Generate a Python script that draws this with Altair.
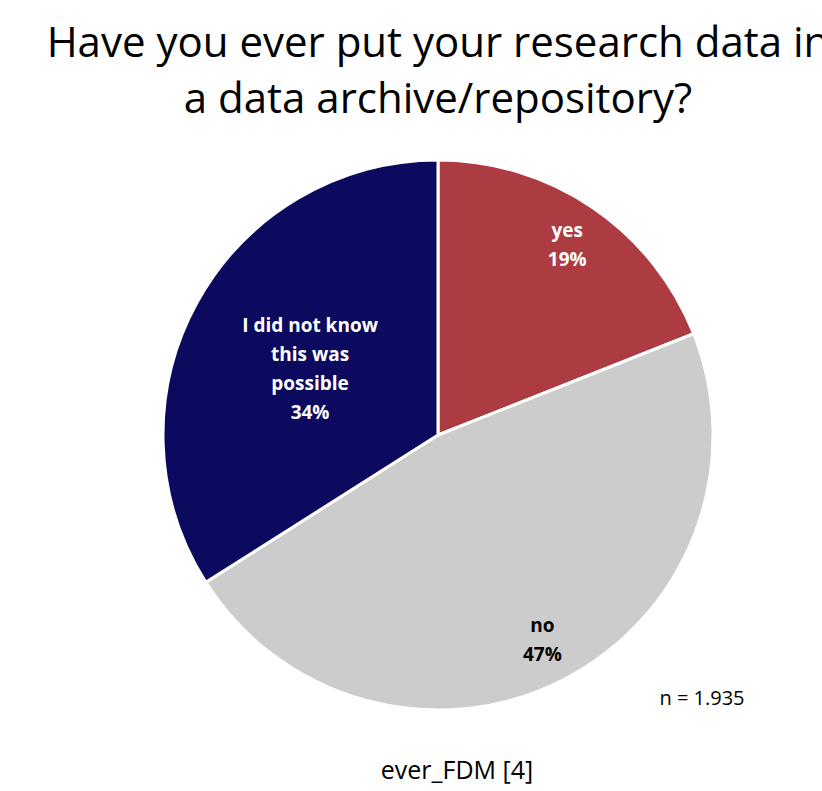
import altair as alt
import pandas as pd

# Survey answers, shares (percent) and slice colours
answers = ["yes", "no", "I did not know this was possible"]
label_lines = ["yes", "no", "I did not know\nthis was\npossible"]
shares = [19, 47, 34]
colors = ["#AC3C42", "#CCCCCC", "#0B0A5E"]

title_lines = ["Have you ever put your research data in", "a data archive/repository?"]
sample_note = "n = 1.935"
variable_name = "ever_FDM [4]"

df = pd.DataFrame({
    "answer": answers,
    "label": label_lines,
    "share": shares,
    "idx": list(range(len(answers))),
})
df["text"] = [f"{l}\n{s}%" for l, s in zip(label_lines, shares)]

W, H = 822, 791
CX, CY, R = 438, 435, 275
LH = 29  # line height of the slice labels

base = alt.Chart(df).encode(
    theta=alt.Theta("share:Q", stack=True),
    order=alt.Order("idx:O"),
)

pie = base.mark_arc(outerRadius=R, stroke="white", strokeWidth=3).encode(
    x=alt.value(CX),
    y=alt.value(CY),
    color=alt.Color("answer:N", scale=alt.Scale(domain=answers, range=colors), legend=None),
)

label_font = dict(font="Open Sans", fontSize=19, fontWeight="bold", lineHeight=LH,
                  align="center", baseline="middle", lineBreak="\n")

# two-line labels for "yes" and "no", centred on their slices
outer_labels = base.transform_calculate(
    shown="datum.answer == 'I did not know this was possible' ? '' : datum.text"
).mark_text(radius=230, dy=-LH / 2 + 1, **label_font).encode(
    x=alt.value(CX), y=alt.value(CY),
    text="shown:N",
    color=alt.condition(alt.datum.answer == "no", alt.value("black"), alt.value("white")),
)

# four-line label for the remaining slice, placed closer to the centre
inner_labels = base.transform_calculate(
    shown="datum.answer == 'I did not know this was possible' ? datum.text : ''"
).mark_text(radius=146, dy=-1.5 * LH + 5, **label_font).encode(
    x=alt.value(CX), y=alt.value(CY),
    text="shown:N",
    color=alt.value("white"),
)

title_df = pd.DataFrame({"line": title_lines, "row": [0, 1]})
title = alt.Chart(title_df).mark_text(
    font="Open Sans", fontSize=42, align="center", baseline="alphabetic", color="black"
).encode(
    x=alt.value(CX),
    y=alt.Y("row:Q", scale=alt.Scale(domain=[0, 1], range=[57, 113]), axis=None),
    text="line:N",
)

note = alt.Chart(pd.DataFrame({"t": [sample_note]})).mark_text(
    font="Open Sans", fontSize=20, align="center", baseline="alphabetic", color="black"
).encode(x=alt.value(702), y=alt.value(705), text="t:N")

footer = alt.Chart(pd.DataFrame({"t": [variable_name]})).mark_text(
    font="Open Sans", fontSize=25, align="center", baseline="alphabetic", color="black"
).encode(x=alt.value(457), y=alt.value(779), text="t:N")

chart = alt.layer(pie, outer_labels, inner_labels, title, note, footer).properties(
    width=W, height=H,
    autosize=alt.AutoSizeParams(type="none"),
    padding=0,
).configure_view(stroke=None).resolve_scale(y="independent")

chart.save("out.html", embed_options={"renderer": "svg", "actions": False})
